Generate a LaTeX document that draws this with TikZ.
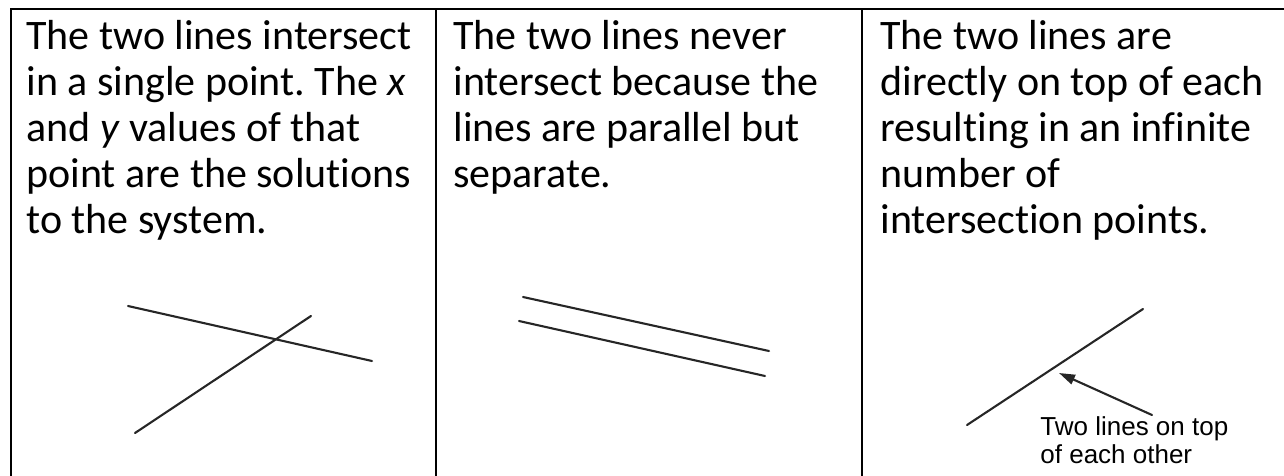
\documentclass[tikz,border=0pt]{standalone}
\usepackage{fontspec}
\setmainfont{Carlito}[Ligatures=CommonOff]
\newfontfamily\notefont{Liberation Sans}
\usetikzlibrary{arrows.meta}
\frenchspacing

\begin{document}
\begin{tikzpicture}[
    x=0.5pt, y=-0.5pt,
    cell text/.style={inner sep=0pt, anchor=base west, align=left,
      font=\fontsize{21}{23}\selectfont},
    note/.style={inner sep=0pt, anchor=base west, align=left,
      font=\notefont\fontsize{13}{14}\selectfont},
    border/.style={line width=1pt, black},
    graph line/.style={line width=1.05pt, black!85, line cap=round},
  ]
\tikzset{>={Triangle[length=8pt, width=5pt]}}

  \useasboundingbox (0,0) rectangle (1284,476);

  % table frame
  \coordinate (topL) at (11,9);
  \coordinate (topR) at (1300,9);
  \coordinate (botL) at (11,490);
  \coordinate (sepAt) at (436,9);
  \coordinate (sepAb) at (436,490);
  \coordinate (sepBt) at (862,9);
  \coordinate (sepBb) at (862,490);
  \draw[border] (botL) -- (topL) -- (topR);
  \draw[border] (sepAt) -- (sepAb);
  \draw[border] (sepBt) -- (sepBb);

  % texts (base anchor sits on the last line)
  \node[cell text] (textA) at (26,233) {The two lines intersect\\
    in a single point. The \textit{x}\\
    and \textit{y} values of that\\
    point are the solutions\\
    to the system.};
  \node[cell text] (textB) at (453,187) {The two lines never\\
    intersect because the\\
    lines are parallel but\\
    separate.};
  \node[cell text] (textC) at (880,233) {The two lines are\\
    directly on top of each\\
    resulting in an infinite\\
    number of\\
    intersection points.};

  % intersecting lines
  \coordinate (a1) at (128,306);
  \coordinate (a2) at (372,361);
  \coordinate (b1) at (135,433);
  \coordinate (b2) at (311,316);
  \draw[graph line] (a1) -- (a2);
  \draw[graph line] (b1) -- (b2);

  % parallel lines
  \coordinate (p1) at (523,297);
  \coordinate (p2) at (769,351);
  \coordinate (q1) at (519,321);
  \coordinate (q2) at (765,376);
  \draw[graph line] (p1) -- (p2);
  \draw[graph line] (q1) -- (q2);

  % same line
  \coordinate (s1) at (967,425);
  \coordinate (s2) at (1143,309);
  \draw[graph line] (s1) -- (s2);

  \node[note] (label) at (1040,463) {Two lines on top\\ of each other};
  \coordinate (tail) at (1152,415);
  \coordinate (tip) at (1059,373);
  \draw[graph line, ->] (tail) -- (tip);

\end{tikzpicture}
\end{document}
